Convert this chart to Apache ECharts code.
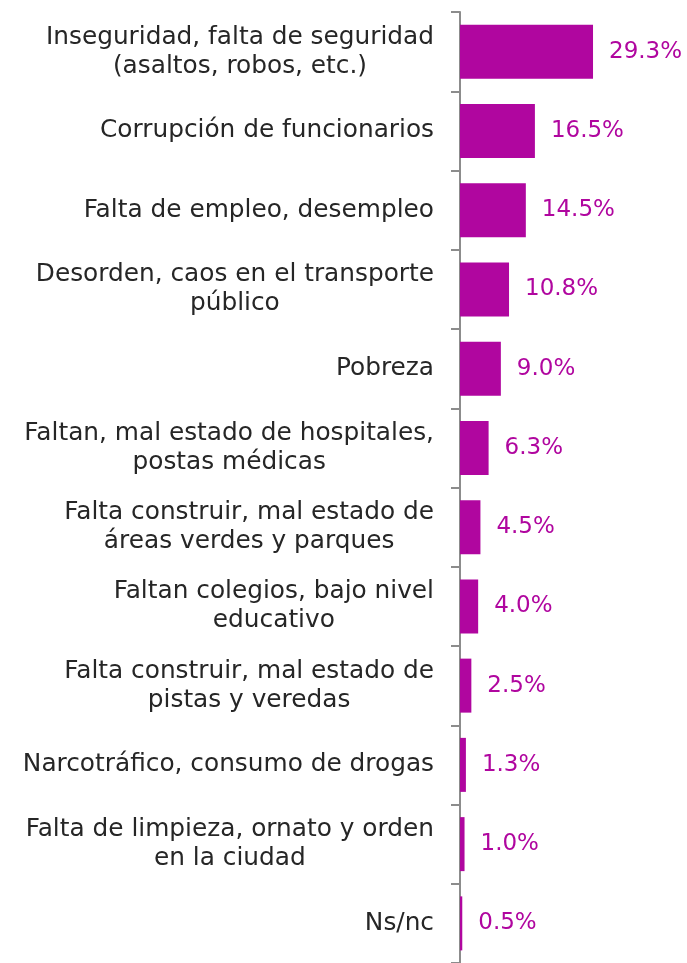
<!DOCTYPE html>
<html>
<head>
<meta charset="utf-8">
<script src="https://cdn.jsdelivr.net/npm/echarts@6/dist/echarts.min.js"></script>
<style>
  html, body { margin: 0; padding: 0; background: #fff; }
  #chart { width: 687px; height: 963px; }
</style>
</head>
<body>
<div id="chart"></div>
<script>
// categorías (de arriba a abajo)
var categories = [
  "Inseguridad, falta de seguridad\n(asaltos, robos, etc.)",
  "Corrupción de funcionarios",
  "Falta de empleo, desempleo",
  "Desorden, caos en el transporte\npúblico",
  "Pobreza",
  "Faltan, mal estado de hospitales,\npostas médicas",
  "Falta construir, mal estado de\náreas verdes y parques",
  "Faltan colegios, bajo nivel\neducativo",
  "Falta construir, mal estado de\npistas y veredas",
  "Narcotráfico, consumo de drogas",
  "Falta de limpieza, ornato y orden\nen la ciudad",
  "Ns/nc"
];
var values = [29.3, 16.5, 14.5, 10.8, 9.0, 6.3, 4.5, 4.0, 2.5, 1.3, 1.0, 0.5];

var chart = echarts.init(document.getElementById("chart"));

var option = {
  animation: false,
  grid: { left: 460, right: 0, top: 12, bottom: 0, containLabel: false },
  xAxis: {
    type: "value",
    min: 0,
    max: 50,
    show: false,
    splitLine: { show: false }
  },
  yAxis: {
    type: "category",
    inverse: true,
    data: categories,
    axisLine: { show: true, lineStyle: { color: "#8c8c8c", width: 2 } },
    axisTick: { show: true, length: 9, lineStyle: { color: "#8c8c8c", width: 2 } },
    axisLabel: {
      interval: 0,
      margin: 26,
      align: "right",
      // cada línea centrada dentro del bloque
      formatter: function (v) {
        return v.split("\n").map(function (s) { return "{c|" + s + "}"; }).join("\n");
      },
      rich: {
        c: {
          align: "center",
          fontFamily: "DejaVu Sans",
          fontSize: 24.8,
          lineHeight: 29,
          color: "#262626"
        }
      }
    }
  },
  series: [
    {
      type: "bar",
      data: values,
      barWidth: 54,
      itemStyle: { color: "#b0069f" },
      label: {
        show: true,
        position: "right",
        distance: 16,
        fontFamily: "DejaVu Sans",
        fontSize: 23,
        color: "#b0069f",
        formatter: function (p) { return p.value.toFixed(1) + "%"; }
      }
    }
  ]
};

chart.setOption(option);
</script>
</body>
</html>
